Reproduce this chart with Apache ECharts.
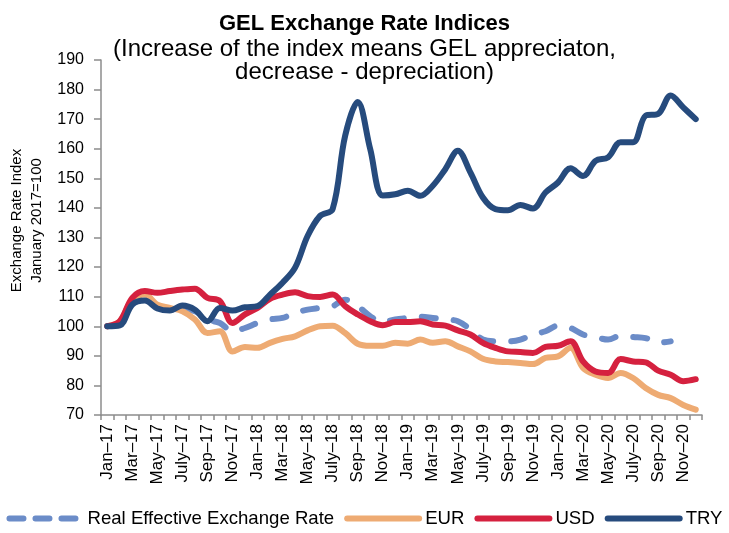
<!DOCTYPE html>
<html>
<head>
<meta charset="utf-8">
<script src="https://cdn.jsdelivr.net/npm/echarts@6/dist/echarts.min.js"></script>
<style>
  html, body { margin: 0; padding: 0; background: #fff; }
  #chart { width: 729px; height: 533px; }
</style>
</head>
<body>
<div id="chart"></div>
<script>
// month labels (only every other one is shown)
var months = [
  "Jan–17", "Feb–17", "Mar–17", "Apr–17", "May–17", "June–17", "July–17", "Aug–17", "Sep–17", "Oct–17", "Nov–17", "Dec–17",
  "Jan–18", "Feb–18", "Mar–18", "Apr–18", "May–18", "June–18", "July–18", "Aug–18", "Sep–18", "Oct–18", "Nov–18", "Dec–18",
  "Jan–19", "Feb–19", "Mar–19", "Apr–19", "May–19", "June–19", "July–19", "Aug–19", "Sep–19", "Oct–19", "Nov–19", "Dec–19",
  "Jan–20", "Feb–20", "Mar–20", "Apr–20", "May–20", "June–20", "July–20", "Aug–20", "Sep–20", "Oct–20", "Nov–20", "Dec–20"
];

var reer = [
  100, 101.1, 108.5, 110.2, 106.8, 105.6, 105.6, 105.1, 102.3, 101.1, 98.3, 99.4,
  101.1, 102.3, 102.8, 104.5, 105.6, 106.2, 106.8, 109, 106.8, 103.4, 101.4, 102.3,
  102.8, 103.2, 102.8, 102.3, 101.7, 98.9, 95.5, 94.9, 94.9, 95.5, 97.2, 98.3,
  100.2, 99.4, 97.2, 96.3, 95.5, 96.8, 96.4, 96, 94.4, 94.9, null, null
];

var eur = [
  100, 101.7, 109, 110.7, 107.3, 106.2, 105.1, 102.3, 97.7, 98.3, 91.5, 93,
  92.7, 94.4, 95.7, 96.6, 98.6, 100, 100.2, 97.7, 94.1, 93.4, 93.4, 94.4,
  94.1, 95.5, 94.4, 94.9, 93.2, 91.5, 89, 88.1, 87.9, 87.6, 87.2, 89.3,
  89.8, 92.7, 85.9, 83.6, 82.5, 84.2, 82.5, 79.1, 76.8, 75.7, 73.4, 71.8
];

var usd = [
  100, 101.7, 109.6, 111.9, 111.3, 111.9, 112.4, 112.7, 109.6, 108.5, 101.1, 104,
  106.2, 109.3, 110.7, 111.5, 110.2, 109.9, 110.7, 106.8, 104, 101.7, 100.3, 101.4,
  101.4, 101.7, 100.6, 100.2, 98.6, 97.2, 94.4, 92.7, 91.5, 91.3, 91, 93,
  93.4, 94.9, 88.1, 84.7, 84.2, 88.9, 88.1, 87.8, 85, 83.6, 81.4, 82.1
];

var tryIdx = [
  100, 100.3, 107.3, 108.7, 106, 105.3, 107, 105.6, 101.7, 106.2, 105.3, 106.4,
  106.8, 110.7, 114.7, 119.8, 130.5, 137.3, 139.6, 164.4, 175.8, 159.9, 144.2, 144.6,
  145.8, 144.1, 147.5, 153.1, 159.3, 152, 143.5, 139.6, 139.2, 141, 139.8, 145.2,
  148.6, 153.4, 150.8, 155.9, 157.1, 162.2, 162.2, 171.2, 171.8, 178, 174, 170
];

var chart = echarts.init(document.getElementById("chart"));
var font = "Liberation Sans";
var axisGray = "#8c8c8c";

function lineSeries(name, data, color, width, dashed) {
  return {
    name: name,
    type: "line",
    data: data,
    smooth: 0.35,
    showSymbol: false,
    symbol: "none",
    lineStyle: {
      color: color,
      width: width,
      type: dashed ? [14, 18] : "solid",
      cap: "round",
      join: "round"
    },
    itemStyle: { color: color }
  };
}

chart.setOption({
  animation: false,
  textStyle: { fontFamily: font },
  title: {
    left: "center",
    top: 6,
    text: "GEL Exchange Rate Indices",
    subtext: "(Increase of the index means GEL appreciaton,\ndecrease - depreciation)",
    itemGap: 1,
    textStyle: { fontFamily: font, fontSize: 22, fontWeight: "bold", color: "#000", lineHeight: 26 },
    subtextStyle: { fontFamily: font, fontSize: 24, color: "#000", lineHeight: 23 }
  },
  legend: {
    bottom: 0,
    left: "center",
    itemWidth: 72,
    itemHeight: 12,
    itemGap: 10,
    itemStyle: { opacity: 0 },
    lineStyle: { width: 6, cap: "round" },
    textStyle: { fontFamily: font, fontSize: 18.6, color: "#000", padding: [0, 0, 0, 1] },
    data: [
      { name: "Real Effective Exchange Rate", lineStyle: { width: 6, type: [14, 12], cap: "round" } },
      "EUR", "USD", "TRY"
    ]
  },
  grid: { left: 101, right: 27, top: 60, bottom: 118, containLabel: false, outerBoundsMode: "none" },
  xAxis: {
    type: "category",
    data: months,
    boundaryGap: true,
    axisLine: { lineStyle: { color: axisGray, width: 1.5 } },
    axisTick: { show: true, interval: 0, length: 5, lineStyle: { color: axisGray, width: 1.5 } },
    axisLabel: {
      interval: 1,
      rotate: 90,
      fontSize: 17,
      color: "#000",
      fontFamily: font,
      margin: 9
    },
    splitLine: { show: false }
  },
  yAxis: {
    type: "value",
    min: 70,
    max: 190,
    interval: 10,
    name: "Exchange Rate Index\nJanuary 2017=100",
    nameLocation: "middle",
    nameRotate: 90,
    nameGap: 53,
    nameTextStyle: { fontFamily: font, fontSize: 15, color: "#000", lineHeight: 20, padding: [0, 0, 0, 34] },
    axisLine: { show: true, lineStyle: { color: axisGray, width: 1.5 } },
    axisTick: { show: true, inside: false, length: 7, lineStyle: { color: axisGray, width: 1.5 } },
    axisLabel: { fontSize: 16, color: "#000", fontFamily: font, margin: 17 },
    splitLine: { show: false }
  },
  series: [
    lineSeries("Real Effective Exchange Rate", reer, "#6b8cc8", 6, true),
    lineSeries("EUR", eur, "#eeab73", 6, false),
    lineSeries("USD", usd, "#d5213f", 6, false),
    lineSeries("TRY", tryIdx, "#264b7d", 6, false)
  ]
});
</script>
</body>
</html>
